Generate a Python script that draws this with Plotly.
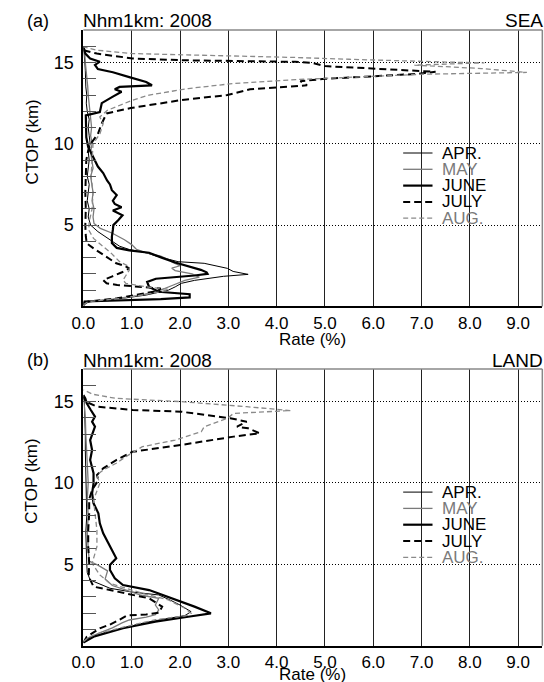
import plotly.graph_objects as go

# ---------------- data (CTOP km, Rate %) ----------------
SEA_APR_CTOP = [0.25,0.45,0.7,1.0,1.2,1.42,1.6,1.73,1.85,1.97,2.15,2.34,2.5,2.65,2.75,2.9,3.1,3.3,3.5,3.7,4.0,4.3,4.6,5.0,5.5,6.0,6.5,7.0,7.5,8.0,8.5,9.0,9.5,10.0,10.5,11.0,11.5,12.0,12.5,13.0,13.5,14.0,14.5,15.0,15.5,16.0]
SEA_APR_RATE = [0.0,0.7,1.3,1.76,1.9,2.03,2.3,2.57,2.9,3.41,3.1,2.98,2.7,2.5,1.96,1.75,1.5,1.3,0.95,0.75,0.6,0.45,0.3,0.15,0.1,0.12,0.08,0.1,0.12,0.08,0.1,0.12,0.1,0.14,0.12,0.1,0.12,0.08,0.06,0.07,0.05,0.05,0.04,0.03,0.02,0.0]

SEA_MAY_CTOP = [0.25,0.45,0.7,1.0,1.3,1.6,1.8,2.0,2.2,2.35,2.5,2.7,2.9,3.1,3.3,3.5,3.8,4.1,4.5,4.8,5.1,5.5,6.0,6.5,7.0,7.5,8.0,8.5,9.0,9.5,10.0,10.5,11.0,11.5,12.0,12.5,13.0,13.5,14.0,14.5,15.0,15.5,16.0]
SEA_MAY_RATE = [0.0,0.6,1.2,1.6,1.85,2.1,2.4,2.25,1.9,1.83,2.0,1.85,1.75,1.6,1.3,1.1,1.0,0.85,0.6,0.35,0.22,0.2,0.22,0.18,0.2,0.18,0.15,0.2,0.17,0.15,0.18,0.15,0.17,0.15,0.14,0.12,0.1,0.09,0.07,0.06,0.04,0.03,0.0]

SEA_JUNE_CTOP = [0.05,0.3,0.45,0.55,0.75,0.82,0.9,1.2,1.5,1.7,1.8,1.9,2.0,2.1,2.25,2.45,2.7,3.0,3.3,3.45,3.6,3.9,4.3,4.7,5.0,5.3,5.6,5.9,6.1,6.3,6.5,6.85,7.15,7.5,7.75,8.2,8.6,9.2,9.8,10.4,11.2,11.75,11.95,12.5,12.9,13.2,13.35,13.5,13.6,13.8,14.1,14.4,14.6,14.85,15.05,15.25,15.55,16.0]
SEA_JUNE_RATE = [0.0,0.02,1.6,2.2,2.2,1.9,1.56,1.36,1.32,1.5,1.96,2.3,2.57,2.55,2.43,2.17,1.9,1.62,1.36,0.95,0.69,0.59,0.59,0.61,0.62,0.72,0.81,0.61,0.79,0.65,0.61,0.69,0.59,0.55,0.49,0.41,0.3,0.2,0.1,0.06,0.05,0.05,0.34,0.38,0.61,0.79,0.65,0.75,1.42,1.3,0.95,0.61,0.3,0.24,0.34,0.14,0.04,0.0]

SEA_JULY_CTOP = [0.1,0.3,0.5,0.75,0.95,1.1,1.2,1.32,1.42,1.62,1.85,2.1,2.34,2.5,2.65,2.9,3.2,3.57,3.88,4.3,5.0,6.0,7.0,8.0,9.0,9.6,10.0,10.6,11.25,11.87,12.2,12.69,13.0,13.35,13.5,13.6,13.85,14.0,14.15,14.3,14.43,14.49,14.63,14.78,14.98,15.04,15.14,15.25,15.55,15.76]
SEA_JULY_RATE = [0.0,0.1,0.7,1.2,1.55,1.6,1.1,0.7,0.48,0.41,0.6,0.8,0.95,0.85,0.68,0.55,0.4,0.21,0.07,0.05,0.04,0.05,0.04,0.05,0.06,0.1,0.15,0.3,0.38,0.48,0.98,2.03,2.98,3.45,4.1,4.63,4.49,5.0,6.0,6.9,7.29,6.89,6.08,5.0,4.73,4.39,2.03,1.02,0.28,0.0]

SEA_AUG_CTOP = [0.1,0.3,0.5,0.75,0.95,1.05,1.2,1.42,1.62,1.9,2.24,2.45,2.75,3.26,3.67,4.18,4.7,5.2,6.0,7.0,8.0,9.0,10.0,10.6,11.25,11.65,12.05,12.69,13.0,13.4,13.71,13.95,14.02,14.16,14.28,14.39,14.5,14.63,14.84,14.92,14.98,15.03,15.1,15.2,15.31,15.45,15.55,15.76,15.96]
SEA_AUG_RATE = [0.0,0.1,0.8,1.35,1.7,1.76,1.3,0.88,0.82,0.88,0.95,0.95,0.75,0.58,0.41,0.21,0.11,0.12,0.18,0.2,0.16,0.18,0.2,0.34,0.41,0.34,0.49,1.02,1.36,2.17,3.11,4.4,5.0,6.08,7.02,9.18,8.7,8.24,6.85,7.6,8.3,7.5,6.5,5.5,4.39,2.03,1.02,0.28,0.0]

LAND_APR_CTOP = [0.2,0.5,0.8,1.1,1.4,1.65,1.85,2.09,2.5,2.8,3.12,3.3,3.53,4.04,4.5,5.0,6.0,7.0,8.0,9.0,10.0,11.0,12.0,13.0,14.0,15.0,15.3]
LAND_APR_RATE = [0.0,0.12,0.45,0.85,1.25,1.7,2.1,2.23,2.0,1.8,1.56,1.0,0.55,0.14,0.08,0.07,0.06,0.05,0.07,0.06,0.05,0.05,0.04,0.04,0.03,0.02,0.0]

LAND_MAY_CTOP = [0.2,0.5,0.8,1.1,1.4,1.58,1.75,1.9,2.2,2.5,2.91,3.1,3.4,3.7,4.1,4.6,4.95,5.2,6.0,7.0,8.0,9.0,10.0,11.0,12.0,13.0,14.0,15.0,15.4]
LAND_MAY_RATE = [0.0,0.12,0.35,0.6,0.8,0.95,1.3,1.49,1.56,1.49,1.56,1.2,0.9,0.6,0.45,0.5,0.3,0.12,0.1,0.08,0.1,0.08,0.1,0.08,0.06,0.05,0.04,0.02,0.0]

LAND_JUNE_CTOP = [0.2,0.55,1.07,1.48,1.78,1.99,2.4,2.91,3.42,3.73,4.14,4.65,4.96,5.37,5.8,6.29,6.91,7.52,8.14,8.75,9.37,9.98,10.6,11.41,12.03,12.64,13.1,13.46,13.77,14.08,14.5,14.9,15.2,15.4]
LAND_JUNE_RATE = [0.0,0.21,0.82,1.49,2.17,2.64,2.3,1.83,1.36,0.82,0.65,0.55,0.55,0.68,0.6,0.51,0.41,0.34,0.31,0.21,0.18,0.21,0.21,0.14,0.18,0.14,0.2,0.24,0.18,0.24,0.15,0.07,0.04,0.0]

LAND_JULY_CTOP = [0.2,0.55,1.07,1.3,1.6,1.86,1.92,2.03,2.4,2.91,3.42,3.63,4.24,5.05,6.1,7.1,8.15,9.0,9.57,10.18,10.49,10.9,11.41,11.92,12.34,12.85,13.05,13.36,13.46,13.77,13.98,14.38,14.49,14.69,15.0,15.3]
LAND_JULY_RATE = [0.0,0.07,0.34,0.55,0.75,0.9,1.3,1.56,1.63,1.36,0.55,0.21,0.11,0.12,0.1,0.1,0.12,0.12,0.18,0.31,0.28,0.41,0.68,1.02,2.03,3.11,3.65,3.41,3.18,3.38,3.04,2.03,1.02,0.28,0.05,0.0]

LAND_AUG_CTOP = [0.25,0.5,0.75,1.05,1.3,1.6,1.85,1.99,2.3,2.81,3.22,3.83,4.35,5.06,6.08,7.1,8.96,9.98,10.49,10.8,11.21,11.62,12.23,12.64,13.15,13.46,13.98,14.28,14.45,14.69,15.0,15.2,15.45,15.72]
LAND_AUG_RATE = [0.0,0.1,0.3,0.7,1.05,1.5,2.13,2.23,2.1,1.76,1.22,0.55,0.34,0.18,0.28,0.28,0.21,0.34,0.28,0.41,0.68,0.88,1.22,1.9,2.44,2.5,2.98,3.11,4.29,3.38,2.03,0.68,0.2,0.0]

MONTHS = ["APR.", "MAY", "JUNE", "JULY", "AUG."]
X_TICKS = [0, 1, 2, 3, 4, 5, 6, 7, 8, 9]
X_TICKTEXT = ["0.0", "1.0", "2.0", "3.0", "4.0", "5.0", "6.0", "7.0", "8.0", "9.0"]
Y_TICKS = [5, 10, 15]
PANEL_LABELS = ["(a)", "(b)"]
PANEL_TITLE = "Nhm1km: 2008"
PANEL_REGIONS = ["SEA", "LAND"]

# ---------------- styles ----------------
FONT = "Liberation Sans, Arial, sans-serif"
GRAY = "#7a7a7a"
STYLES = {
    "APR.": dict(color="black", width=1.0, dash="solid", text="black"),
    "MAY": dict(color=GRAY, width=1.3, dash="solid", text=GRAY),
    "JUNE": dict(color="black", width=2.2, dash="solid", text="black"),
    "JULY": dict(color="black", width=2.0, dash="7px,4px", text="black"),
    "AUG.": dict(color="#8a8a8a", width=1.3, dash="5px,3px", text=GRAY),
}

W, H = 544, 682
X0, X1 = 73.0, 542.3
PANELS_PX = [(30.0, 306.4), (369.1, 645.7)]

series = {
    0: [(SEA_APR_CTOP, SEA_APR_RATE), (SEA_MAY_CTOP, SEA_MAY_RATE), (SEA_JUNE_CTOP, SEA_JUNE_RATE),
        (SEA_JULY_CTOP, SEA_JULY_RATE), (SEA_AUG_CTOP, SEA_AUG_RATE)],
    1: [(LAND_APR_CTOP, LAND_APR_RATE), (LAND_MAY_CTOP, LAND_MAY_RATE), (LAND_JUNE_CTOP, LAND_JUNE_RATE),
        (LAND_JULY_CTOP, LAND_JULY_RATE), (LAND_AUG_CTOP, LAND_AUG_RATE)],
}

fig = go.Figure()
shapes, annotations = [], []

for p in range(2):
    xa = "x" if p == 0 else "x2"
    ya = "y" if p == 0 else "y2"
    for m, (ct, rt) in zip(MONTHS, series[p]):
        st = STYLES[m]
        fig.add_trace(go.Scatter(x=rt, y=ct, mode="lines", xaxis=xa, yaxis=ya,
                                 line=dict(color=st["color"], width=st["width"], dash=st["dash"]),
                                 showlegend=False, hoverinfo="skip"))
    top, bot = PANELS_PX[p]
    ydom = [1 - bot / H, 1 - top / H]
    xdom = [X0 / W, X1 / W]
    axx = dict(domain=xdom, range=[0, 9.5], tickvals=X_TICKS, ticktext=X_TICKTEXT,
               showgrid=True, gridcolor="#222", gridwidth=1, zeroline=False,
               showline=True, linecolor="black", linewidth=1.5, ticks="",
               tickfont=dict(family=FONT, size=17, color="black"), anchor=ya, fixedrange=True)
    axy = dict(domain=ydom, range=[0, 17], tickvals=Y_TICKS,
               showgrid=True, gridcolor="black", gridwidth=1, griddash="1px,2px", zeroline=False,
               showline=True, linecolor="black", linewidth=2.2,
               ticks="inside", ticklen=13, tickcolor="#555", tickwidth=1,
               minor=dict(dtick=1, tick0=0, ticks="inside", ticklen=13, tickcolor="#555", tickwidth=1, showgrid=False),
               ticklabelstandoff=4,
               tickfont=dict(family=FONT, size=18, color="black"), anchor=xa, fixedrange=True)
    if p == 0:
        fig.update_layout(xaxis=axx, yaxis=axy)
    else:
        fig.update_layout(xaxis2=axx, yaxis2=axy)

    xd = xa + " domain"
    yd = ya + " domain"
    # gray top / right frame
    shapes.append(dict(type="line", xref=xd, yref=yd, x0=0, x1=1, y0=1, y1=1, line=dict(color="#888", width=1.5)))
    shapes.append(dict(type="line", xref=xd, yref=yd, x0=1, x1=1, y0=0, y1=1, line=dict(color="#888", width=1.5)))

    # custom legend
    ph = bot - top
    for i, m in enumerate(MONTHS):
        st = STYLES[m]
        ypx = top + 123.0 + i * 16.3
        yfrac = (bot - ypx) / ph
        shapes.append(dict(type="line", xref=xd, yref=yd,
                           x0=(400 - X0) / (X1 - X0), x1=(430 - X0) / (X1 - X0), y0=yfrac, y1=yfrac,
                           line=dict(color=st["color"], width=st["width"], dash=st["dash"])))
        annotations.append(dict(xref=xd, yref=yd, x=(438 - X0) / (X1 - X0), y=yfrac, text=m,
                                showarrow=False, xanchor="left", yanchor="middle",
                                font=dict(family=FONT, size=17, color=st["text"])))

    # titles
    ty = 1 - (top - 9) / H
    annotations.append(dict(xref="paper", yref="paper", x=27 / W, y=ty, text=PANEL_LABELS[p], showarrow=False,
                            xanchor="center", yanchor="middle", font=dict(family=FONT, size=18, color="black")))
    annotations.append(dict(xref="paper", yref="paper", x=X0 / W, y=ty, text=PANEL_TITLE, showarrow=False,
                            xanchor="left", yanchor="middle", xshift=-2, font=dict(family=FONT, size=19, color="black")))
    annotations.append(dict(xref="paper", yref="paper", x=1.0, y=ty, text=PANEL_REGIONS[p], showarrow=False,
                            xanchor="right", yanchor="middle", xshift=1, font=dict(family=FONT, size=19, color="black")))
    # axis titles
    ry = bot + 33 if p == 0 else bot + 29
    annotations.append(dict(xref="paper", yref="paper", x=(X0 + X1) / 2 / W, y=1 - ry / H, text="Rate (%)",
                            showarrow=False, xanchor="center", yanchor="middle",
                            font=dict(family=FONT, size=17, color="black")))
    annotations.append(dict(xref="paper", yref="paper", x=20 / W, y=1 - (top + 112) / H, text="CTOP (km)",
                            showarrow=False, xanchor="center", yanchor="middle", textangle=-90,
                            font=dict(family=FONT, size=17, color="black")))

fig.update_layout(width=W, height=H, margin=dict(l=0, r=0, t=0, b=0),
                  paper_bgcolor="white", plot_bgcolor="white",
                  shapes=shapes, annotations=annotations, showlegend=False)

fig.write_html("out.html")
